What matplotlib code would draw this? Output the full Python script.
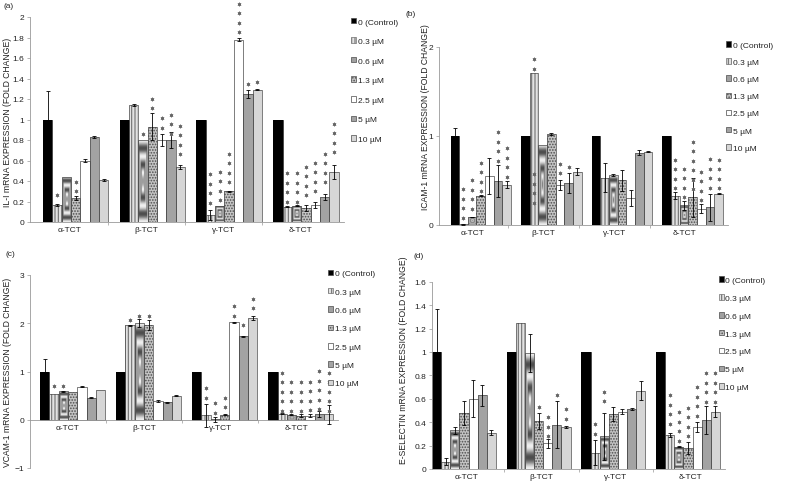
import numpy as np
import matplotlib
matplotlib.use('Agg')
import matplotlib.pyplot as plt
from matplotlib.patches import Patch
from matplotlib.transforms import ScaledTranslation
from matplotlib.ticker import FuncFormatter

plt.rcParams['font.family'] = ['Liberation Sans', 'DejaVu Sans']
plt.rcParams['hatch.linewidth'] = 0.8

categories = ['α-TCT', 'β-TCT', 'γ-TCT', 'δ-TCT']
series = ['0 (Control)', '0.3 µM', '0.6 µM', '1.3 µM', '2.5 µM', '5 µM', '10 µM']

# ---------------- (a) IL-1 ----------------
il1_vals = [[1.0, 0.17, 0.44, 0.23, 0.60, 0.83, 0.41],
            [1.0, 1.14, 0.80, 0.93, 0.80, 0.80, 0.54],
            [1.0, 0.07, 0.16, 0.30, 1.78, 1.25, 1.29],
            [1.0, 0.15, 0.16, 0.14, 0.17, 0.24, 0.49]]
il1_errs = [[0.28, 0.01, 0.0, 0.02, 0.01, 0.01, 0.01],
            [0.0, 0.01, 0.0, 0.13, 0.06, 0.08, 0.02],
            [0.0, 0.05, 0.0, 0.005, 0.015, 0.04, 0.005],
            [0.0, 0.005, 0.005, 0.03, 0.03, 0.03, 0.07]]
il1_stars = [[0, 1, 0, 2, 0, 0, 0],
             [0, 0, 1, 2, 2, 3, 4],
             [0, 4, 4, 4, 4, 1, 1],
             [0, 4, 4, 4, 4, 4, 4]]
il1_star_base = [[0, 0.26, 0, 0.30, 0, 0, 0],
                 [0, 0, 0.86, 1.11, 0.92, 0.86, 0.66],
                 [0, 0.19, 0.21, 0.39, 1.85, 1.35, 1.37],
                 [0, 0.20, 0.20, 0.26, 0.30, 0.39, 0.68]]
il1_yticks = [0, 0.2, 0.4, 0.6, 0.8, 1.0, 1.2, 1.4, 1.6, 1.8, 2.0]

# ---------------- (b) ICAM-1 ----------------
icam_vals = [[1.0, 0.01, 0.09, 0.33, 0.55, 0.49, 0.45],
             [1.0, 1.70, 0.90, 1.02, 0.45, 0.47, 0.60],
             [1.0, 0.53, 0.56, 0.50, 0.30, 0.81, 0.82],
             [1.0, 0.33, 0.22, 0.31, 0.18, 0.20, 0.35]]
icam_errs = [[0.09, 0.005, 0.005, 0.01, 0.20, 0.18, 0.04],
             [0.0, 0.0, 0.0, 0.01, 0.06, 0.11, 0.04],
             [0.0, 0.16, 0.01, 0.12, 0.09, 0.03, 0.005],
             [0.0, 0.04, 0.05, 0.22, 0.05, 0.15, 0.005]]
icam_stars = [[0, 4, 4, 4, 0, 4, 4],
              [0, 2, 0, 0, 2, 1, 0],
              [0, 0, 0, 0, 0, 0, 0],
              [0, 4, 4, 6, 4, 4, 4]]
icam_star_base = [[0, 0.08, 0.18, 0.38, 0, 0.72, 0.54],
                  [0, 1.75, 0, 0, 0.58, 0.65, 0],
                  [0, 0, 0, 0, 0, 0, 0],
                  [0, 0.41, 0.31, 0.40, 0.28, 0.42, 0.41]]
# extra star column drawn over the beta 0.3 uM bar: (group, series, count, base)
icam_extra_stars = [(1, 1, 4, 0.25)]
icam_yticks = [0, 1, 2]

# ---------------- (c) VCAM-1 ----------------
vcam_vals = [[1.0, 0.54, 0.59, 0.57, 0.68, 0.46, 0.61],
             [1.0, 1.96, 2.00, 1.96, 0.39, 0.36, 0.50],
             [1.0, 0.09, 0.01, 0.10, 2.02, 1.73, 2.10],
             [1.0, 0.12, 0.10, 0.08, 0.08, 0.12, 0.11]]
vcam_errs = [[0.25, 0.0, 0.01, 0.0, 0.01, 0.01, 0.0],
             [0.0, 0.01, 0.08, 0.11, 0.02, 0.01, 0.01],
             [0.0, 0.24, 0.05, 0.01, 0.01, 0.01, 0.04],
             [0.0, 0.01, 0.01, 0.03, 0.03, 0.07, 0.20]]
vcam_stars = [[0, 1, 1, 0, 0, 0, 0],
              [0, 1, 1, 1, 0, 0, 0],
              [0, 2, 2, 2, 2, 1, 2],
              [0, 5, 4, 4, 4, 5, 5]]
vcam_star_base = [[0, 0.69, 0.70, 0, 0, 0, 0],
                  [0, 2.07, 2.16, 2.14, 0, 0, 0],
                  [0, 0.46, 0.15, 0.26, 2.16, 1.96, 2.31],
                  [0, 0.19, 0.19, 0.19, 0.20, 0.22, 0.19]]
vcam_yticks = [-1, 0, 1, 2, 3]

# ---------------- (d) E-selectin ----------------
esel_vals = [[1.0, 0.06, 0.33, 0.48, 0.60, 0.63, 0.31],
             [1.0, 1.25, 0.99, 0.41, 0.22, 0.38, 0.36],
             [1.0, 0.14, 0.28, 0.47, 0.49, 0.51, 0.67],
             [1.0, 0.29, 0.19, 0.18, 0.36, 0.42, 0.49]]
esel_errs = [[0.37, 0.03, 0.03, 0.10, 0.16, 0.09, 0.02],
             [0.0, 0.0, 0.16, 0.07, 0.04, 0.20, 0.01],
             [0.0, 0.11, 0.20, 0.06, 0.02, 0.01, 0.08],
             [0.0, 0.015, 0.005, 0.05, 0.04, 0.12, 0.05]]
esel_stars = [[0, 0, 0, 0, 0, 0, 0],
              [0, 0, 0, 1, 3, 1, 2],
              [0, 2, 2, 0, 0, 0, 0],
              [0, 4, 4, 4, 4, 4, 4]]
esel_star_base = [[0, 0, 0, 0, 0, 0, 0],
                  [0, 0, 0, 0.53, 0.28, 0.63, 0.43],
                  [0, 0.30, 0.58, 0, 0, 0, 0],
                  [0, 0.385, 0.24, 0.28, 0.455, 0.575, 0.575]]
esel_yticks = [0, 0.2, 0.4, 0.6, 0.8, 1.0, 1.2, 1.4, 1.6]

# ---------------- layout / style ----------------
W, H = 787, 485
fig = plt.figure(figsize=(W / 100, H / 100), dpi=100)

EDGE = '#4a4a4a'
FS = 6
styles = [
    dict(fc='black', ec='black', hatch=None),
    dict(fc='#e2e2e2', ec='#707070', hatch='|||||'),
    dict(fc='#a0a0a0', ec=EDGE, hatch=None, box=True),
    dict(fc='#c4c4c4', ec='#4e4e4e', hatch='......'),
    dict(fc='white', ec=EDGE, hatch=None),
    dict(fc='#a3a3a3', ec=EDGE, hatch=None),
    dict(fc='#d6d6d6', ec=EDGE, hatch=None),
]

panels = [
    dict(vals=il1_vals, errs=il1_errs, stars=il1_stars, base=il1_star_base, extra=[],
         yticks=il1_yticks, rect=(30, 18, 344, 223), xlim=(-0.52, 3.57), ylim=(0, 2),
         shift=0.074, ylabel='IL-I mRNA EXPRESSION (FOLD CHANGE)', ylab=(8, 122),
         tag='(a)', tagxy=(4, 6), leg=(351, 18.8), legsp=1.42),
    dict(vals=icam_vals, errs=icam_errs, stars=icam_stars, base=icam_star_base, extra=icam_extra_stars,
         yticks=icam_yticks, rect=(439, 47.7, 728, 226), xlim=(-0.48, 3.61), ylim=(0, 2),
         shift=0.11, ylabel='ICAM-1 mRNA EXPRESSION (FOLD CHANGE)', ylab=(425, 117),
         tag='(b)', tagxy=(405, 15), leg=(726, 42.2), legsp=1.13),
    dict(vals=vcam_vals, errs=vcam_errs, stars=vcam_stars, base=vcam_star_base, extra=[],
         yticks=vcam_yticks, rect=(30, 276, 338, 469), xlim=(-0.5, 3.55), ylim=(-1, 3),
         shift=0.06, ylabel='VCAM-1 mRNA EXPRESSION (FOLD CHANGE)', ylab=(8, 372),
         tag='(c)', tagxy=(6, 255), leg=(328, 270.5), legsp=1.28),
    dict(vals=esel_vals, errs=esel_errs, stars=esel_stars, base=esel_star_base, extra=[],
         yticks=esel_yticks, rect=(432, 282.7, 725, 470), xlim=(-0.465, 3.46), ylim=(0, 1.6),
         shift=-0.036, ylabel='E-SELECTIN mRNA EXPRESSION (FOLD CHANGE)', ylab=(404, 360),
         tag='(d)', tagxy=(414, 256), leg=(718.5, 277.2), legsp=1.22),
]

BW = 0.122
STEP_PX = 9.5


def box_texture(ax, rect):
    x0, y0 = rect.get_x(), rect.get_y()
    w, h = rect.get_width(), rect.get_height()
    if h <= 0:
        return
    ny, nx = 200, 30
    u = (np.arange(nx) + 0.5) / nx
    v = (np.arange(ny) + 0.5) / ny
    U, V = np.meshgrid(u, v)
    d = np.maximum(np.abs(2 * U - 1), np.abs(2 * V - 1))
    g = 0.62 - 0.32 * np.cos(2 * np.pi * 2.5 * d)
    im = ax.imshow(g, cmap='gray', vmin=0, vmax=1, extent=(x0, x0 + w, y0, y0 + h),
                   origin='lower', aspect='auto', interpolation='bilinear', zorder=2.1)
    im.set_clip_path(rect)


def star_column(ax, x, n, b):
    for k in range(n):
        tr = ax.transData + ScaledTranslation(0, k * STEP_PX / 100, fig.dpi_scale_trans)
        ax.plot([x], [b], marker=(6, 2, 0), ms=2.7, mew=0.45, color='#666666',
                transform=tr, clip_on=False, zorder=4)


fmt = FuncFormatter(lambda v, _: ('%g' % v).replace('-', '\u2212'))

for p in panels:
    l, t, r, b = p['rect']
    ax = fig.add_axes([l / W, 1 - b / H, (r - l) / W, (b - t) / H])
    vals = np.array(p['vals'])
    errs = np.array(p['errs'])
    xc = np.arange(len(categories))
    for j in range(len(series)):
        st = styles[j]
        xs = xc + p['shift'] + (j - 3) * BW
        bars = ax.bar(xs, vals[:, j], BW, color=st['fc'], edgecolor=st['ec'],
                      hatch=st['hatch'], linewidth=0, zorder=2)
        if st.get('box'):
            for rect in bars.patches:
                box_texture(ax, rect)
        ax.bar(xs, vals[:, j], BW, fill=False, edgecolor=EDGE if j else 'black',
               linewidth=0.5, zorder=2.2)
        m = errs[:, j] > 0
        ax.errorbar(xs[m], vals[m, j], yerr=errs[m, j], fmt='none', ecolor='black',
                    elinewidth=0.6, capsize=1.6, capthick=0.6, zorder=3)
        for i in range(len(categories)):
            n = p['stars'][i][j]
            if n:
                star_column(ax, xs[i], n, p['base'][i][j])
    for (i, j, n, bb) in p['extra']:
        star_column(ax, xc[i] + p['shift'] + (j - 3) * BW, n, bb)

    ax.set_xlim(*p['xlim'])
    ax.set_ylim(*p['ylim'])
    ax.set_yticks(p['yticks'])
    ax.yaxis.set_major_formatter(fmt)
    ax.set_xticks(xc)
    ax.set_xticklabels(categories)
    ax.set_xticks([0.5, 1.5, 2.5], minor=True)
    ax.tick_params(axis='x', which='major', length=0, pad=3, labelsize=FS, colors='#222222')
    ax.tick_params(axis='x', which='minor', length=2, width=0.5, color='#999999')
    ax.tick_params(axis='y', length=2, width=0.5, color='#999999', pad=2, labelsize=FS,
                   labelcolor='#222222')
    for s in ['top', 'right']:
        ax.spines[s].set_visible(False)
    for s in ['left', 'bottom']:
        ax.spines[s].set_color('#999999')
        ax.spines[s].set_linewidth(0.6)
    if p['ylim'][0] < 0:
        ax.spines['bottom'].set_position(('data', 0))
    ax.set_facecolor('none')

    fig.text(p['ylab'][0] / W, 1 - p['ylab'][1] / H, p['ylabel'], rotation=90,
             ha='center', va='center', fontsize=6.2, color='#222222')
    fig.text(p['tagxy'][0] / W, 1 - p['tagxy'][1] / H, p['tag'], ha='left', va='center',
             fontsize=FS, color='#222222')

    handles = []
    for st in styles:
        handles.append(Patch(facecolor=st['fc'], edgecolor=st['ec'] if st['hatch'] else EDGE,
                             hatch=st['hatch'], linewidth=0.5))
    ax.legend(handles, series, loc='upper left',
              bbox_to_anchor=(p['leg'][0] / W, 1 - p['leg'][1] / H),
              bbox_transform=fig.transFigure, frameon=False, fontsize=FS,
              handlelength=0.6, handleheight=0.65, handletextpad=0.2,
              labelspacing=p['legsp'], borderpad=0, borderaxespad=0, labelcolor='#222222')

fig.savefig('out.png', dpi=100)
